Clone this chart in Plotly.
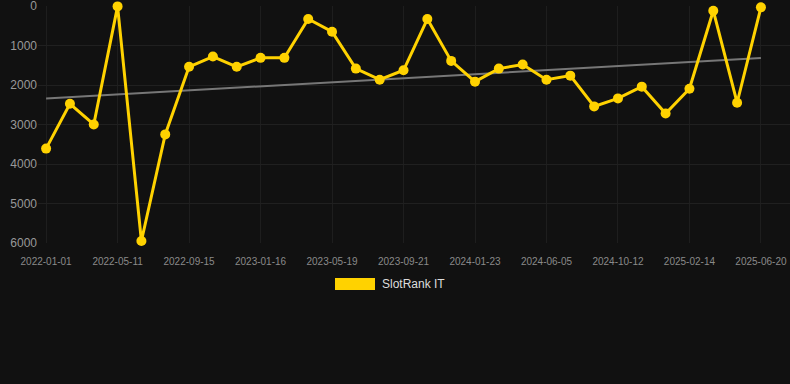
import plotly.graph_objects as go

dates = [
    "2022-01-01", "2022-02-13", "2022-03-28",
    "2022-05-11", "2022-06-22", "2022-08-03",
    "2022-09-15", "2022-10-26", "2022-12-06",
    "2023-01-16", "2023-02-26", "2023-04-08",
    "2023-05-19", "2023-06-30", "2023-08-11",
    "2023-09-21", "2023-11-01", "2023-12-13",
    "2024-01-23", "2024-03-07", "2024-04-21",
    "2024-06-05", "2024-07-18", "2024-08-30",
    "2024-10-12", "2024-11-23", "2025-01-04",
    "2025-02-14", "2025-03-27", "2025-05-08",
    "2025-06-20",
]
ranks = [
    3610, 2475, 3000,
    10, 5950, 3250,
    1540, 1280, 1540,
    1313, 1313, 330,
    652, 1585, 1865,
    1627, 330, 1390,
    1915, 1585, 1483,
    1865, 1763, 2542,
    2339, 2042, 2720,
    2093, 119, 2449,
    34,
]
trend_dates = ["2022-01-01", "2025-06-20"]
trend_values = [2340, 1315]

tick_dates = ["2022-01-01", "2022-05-11", "2022-09-15", "2023-01-16", "2023-05-19",
              "2023-09-21", "2024-01-23", "2024-06-05", "2024-10-12", "2025-02-14",
              "2025-06-20"]
y_ticks = [0, 1000, 2000, 3000, 4000, 5000, 6000]
series_name = "SlotRank IT"

fig = go.Figure()
fig.add_trace(go.Scatter(
    x=trend_dates, y=trend_values, mode="lines",
    line=dict(color="#777777", width=2), showlegend=False, hoverinfo="skip",
))
fig.add_trace(go.Scatter(
    x=dates, y=ranks, mode="lines+markers", name=series_name,
    line=dict(color="#FFD200", width=3),
    marker=dict(color="#FFD200", size=10),
    showlegend=False, cliponaxis=False,
))

fig.update_layout(
    width=790, height=384,
    paper_bgcolor="#111111", plot_bgcolor="#111111",
    margin=dict(l=38, r=0, t=6, b=141),
    font=dict(family="Liberation Sans, Arial, sans-serif", color="#999999"),
    xaxis=dict(
        type="category", categoryorder="array", categoryarray=dates,
        range=[-0.34, 31.22],
        tickvals=tick_dates, ticktext=tick_dates,
        tickfont=dict(size=10, color="#8a8a8a"),
        showgrid=True, gridcolor="#1e1e1e", gridwidth=1,
        zeroline=False, showline=False,
        ticks="outside", ticklen=9, tickcolor="#111111",
        ticklabeloverflow="allow",
    ),
    yaxis=dict(
        range=[6000, 0], tickvals=y_ticks,
        tickfont=dict(size=12, color="#999999"),
        showgrid=True, gridcolor="#202020", gridwidth=1,
        zeroline=False, showline=False, ticks="", ticklen=2,
        ticklabeloverflow="allow",
    ),
    showlegend=False,
    shapes=[dict(type="rect", xref="paper", yref="paper",
                 x0=(335 - 38) / 752, x1=(375 - 38) / 752,
                 y0=(384 - 141 - 290) / 237, y1=(384 - 141 - 278) / 237,
                 fillcolor="#FFD200", line=dict(width=0))],
    annotations=[dict(text=series_name, xref="paper", yref="paper",
                      x=(380 - 38) / 752, y=(384 - 141 - 284) / 237,
                      xanchor="left", yanchor="middle", showarrow=False,
                      font=dict(size=12, color="#dddddd"))],
)

fig.write_html(
    "out.html",
    config={"displayModeBar": False},
    post_script="document.body.style.margin='0';document.body.style.background='#111111';",
)
